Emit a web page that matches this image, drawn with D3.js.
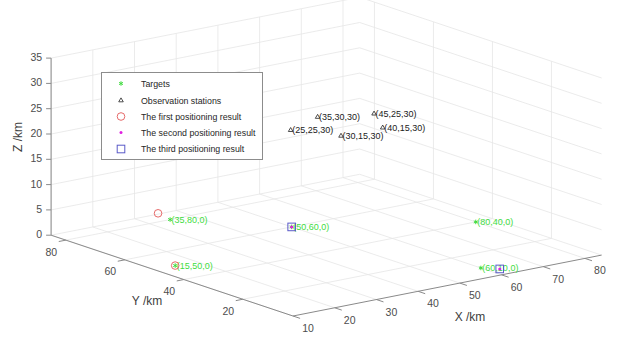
<!DOCTYPE html>
<html>
<head>
<meta charset="utf-8">
<script src="https://cdn.jsdelivr.net/npm/d3@7/dist/d3.min.js"></script>
<style>
  html, body { margin: 0; padding: 0; background: #fff; }
  svg { display: block; font-family: "Liberation Sans", Arial, sans-serif; }
</style>
</head>
<body>
<svg id="chart" width="636" height="338"></svg>
<script>
// ---------------- data ----------------
const targets = [[35, 80, 0], [15, 50, 0], [50, 60, 0], [80, 40, 0], [60, 10, 0]];
const targetLabels = ["(35,80,0)", "(15,50,0)", "(50,60,0)", "(80,40,0)", "(60,10,0)"];
const stations = [[35, 30, 30], [45, 25, 30], [25, 25, 30], [30, 15, 30], [40, 15, 30]];
const stationLabels = ["(35,30,30)", "(45,25,30)", "(25,25,30)", "(30,15,30)", "(40,15,30)"];
const firstResult = [[36, 85.5, 0], [15, 50, 0]];
const secondResult = [[50, 60, 0], [62.4, 7, 0]];
const thirdResult = [[50, 60, 0], [62.4, 7, 0]];
const xTicks = [10, 20, 30, 40, 50, 60, 70, 80];
const yTicks = [20, 40, 60, 80];
const zTicks = [0, 5, 10, 15, 20, 25, 30, 35];
const xDomain = [10, 84];
const yDomain = [3, 85];
const zDomain = [0, 35];
const legendLabels = ["Targets", "Observation stations", "The first positioning result",
                      "The second positioning result", "The third positioning result"];

// ---------------- projection ----------------
const xs = d3.scaleLinear().domain(xDomain).range([0, 1]);
const ys = d3.scaleLinear().domain(yDomain).range([0, 1]);
const zs = d3.scaleLinear().domain(zDomain).range([0, 1]);
const O = [293, 316];          // screen position of (xmin, ymin, zmin)
const EX = [308.6, -60.9];     // screen vector of full x range
const EY = [-241.9, -80.8];    // screen vector of full y range
const EZ = [0, -177.1];        // screen vector of full z range
function P(x, y, z) {
  const a = xs(x), b = ys(y), c = zs(z);
  return [O[0] + a * EX[0] + b * EY[0] + c * EZ[0],
          O[1] + a * EX[1] + b * EY[1] + c * EZ[1]];
}

const svg = d3.select("#chart");
const line = d3.line();
const [x0, x1] = xDomain, [y0, y1] = yDomain, [z0, z1] = zDomain;

// ---------------- grid ----------------
const grid = svg.append("g").attr("stroke", "#e6e6e6").attr("stroke-width", 0.8).attr("fill", "none");
function seg(a, b) { grid.append("path").attr("d", line([P(...a), P(...b)])); }
// floor
yTicks.forEach(y => seg([x0, y, z0], [x1, y, z0]));
xTicks.forEach(x => seg([x, y0, z0], [x, y1, z0]));
// back wall y = ymax
xTicks.forEach(x => seg([x, y1, z0], [x, y1, z1]));
zTicks.forEach(z => seg([x0, y1, z], [x1, y1, z]));
// back wall x = xmax
yTicks.forEach(y => seg([x1, y, z0], [x1, y, z1]));
zTicks.forEach(z => seg([x1, y0, z], [x1, y1, z]));

// ---------------- axes ----------------
const axes = svg.append("g").attr("stroke", "#8a8a8a").attr("stroke-width", 1).attr("fill", "none");
axes.append("path").attr("d", line([P(x0, y0, z0), P(x1, y0, z0)]));
axes.append("path").attr("d", line([P(x0, y0, z0), P(x0, y1, z0)]));
axes.append("path").attr("d", line([P(x0, y1, z0), P(x0, y1, z1)]));
xTicks.forEach(x => axes.append("path").attr("d", line([P(x, y0, z0), P(x, y0 - 2.4, z0)])));
yTicks.forEach(y => axes.append("path").attr("d", line([P(x0, y, z0), P(x0 - 1.7, y, z0)])));
zTicks.forEach(z => { const p = P(x0, y1, z); axes.append("path").attr("d", line([p, [p[0] - 5, p[1]]])); });

const lab = svg.append("g").attr("fill", "#4d4d4d").attr("font-size", 10.5)
  .attr("text-anchor", "middle").attr("dominant-baseline", "central");
xTicks.forEach(x => { const p = P(x, y0, z0); lab.append("text").attr("x", p[0] + 15).attr("y", p[1] + 12).text(x); });
yTicks.forEach(y => { const p = P(x0, y, z0); lab.append("text").attr("x", p[0] - 14.5).attr("y", p[1] + 11.5).text(y); });
zTicks.forEach(z => { const p = P(x0, y1, z); lab.append("text").attr("x", p[0] - 9).attr("y", p[1] - 1).attr("text-anchor", "end").text(z); });

const titles = svg.append("g").attr("fill", "#404040").attr("font-size", 12)
  .attr("text-anchor", "middle").attr("dominant-baseline", "central");
titles.append("text").attr("x", 470).attr("y", 317).text("X /km");
titles.append("text").attr("x", 147).attr("y", 301).text("Y /km");
titles.append("text").attr("transform", "translate(18,137) rotate(-90)").text("Z /km");

// ---------------- markers ----------------
const green = "#3fdc3f", red = "#e66a6a", magenta = "#e020e0", blue = "#5a5ac8";
const star = d3.symbol(d3.symbolAsterisk, 14);
const tri = d3.symbol(d3.symbolTriangle, 9);
const marks = svg.append("g");

function drawTarget(g, p) {
  g.append("path").attr("d", star()).attr("transform", `translate(${p[0]},${p[1]})`)
    .attr("fill", "none").attr("stroke", green).attr("stroke-width", 1);
}
function drawStation(g, p) {
  g.append("path").attr("d", tri()).attr("transform", `translate(${p[0]},${p[1]})`)
    .attr("fill", "none").attr("stroke", "#222").attr("stroke-width", 0.8);
}
function drawFirst(g, p) {
  g.append("circle").attr("cx", p[0]).attr("cy", p[1]).attr("r", 3.8)
    .attr("fill", "none").attr("stroke", red).attr("stroke-width", 1);
}
function drawSecond(g, p) {
  g.append("circle").attr("cx", p[0]).attr("cy", p[1]).attr("r", 1.5).attr("fill", magenta);
}
function drawThird(g, p) {
  g.append("rect").attr("x", p[0] - 3.8).attr("y", p[1] - 3.8).attr("width", 7.6).attr("height", 7.6)
    .attr("fill", "none").attr("stroke", blue).attr("stroke-width", 1);
}

targets.forEach((t, i) => {
  const p = P(...t);
  drawTarget(marks, p);
  marks.append("text").attr("x", p[0] + 1.5).attr("y", p[1]).attr("dominant-baseline", "central")
    .attr("font-size", 9).attr("fill", green).text(targetLabels[i]);
});
stations.forEach((s, i) => {
  const p = P(...s);
  drawStation(marks, p);
  marks.append("text").attr("x", p[0] + 1.5).attr("y", p[1]).attr("dominant-baseline", "central")
    .attr("font-size", 9).attr("fill", "#222").text(stationLabels[i]);
});
firstResult.forEach(r => drawFirst(marks, P(...r)));
secondResult.forEach(r => drawSecond(marks, P(...r)));
thirdResult.forEach(r => drawThird(marks, P(...r)));

// ---------------- legend ----------------
const lg = svg.append("g");
lg.append("rect").attr("x", 101.5).attr("y", 72.5).attr("width", 161).attr("height", 87)
  .attr("fill", "#fff").attr("stroke", "#8c8c8c").attr("stroke-width", 1);
const rowY = [83.5, 100.5, 116.5, 132.5, 149];
const drawers = [drawTarget, drawStation, drawFirst, drawSecond, drawThird];
legendLabels.forEach((t, i) => {
  drawers[i](lg, [121, rowY[i]]);
  lg.append("text").attr("x", 141).attr("y", rowY[i]).attr("dominant-baseline", "central")
    .attr("font-size", 8.8).attr("fill", "#262626").text(t);
});
</script>
</body>
</html>
